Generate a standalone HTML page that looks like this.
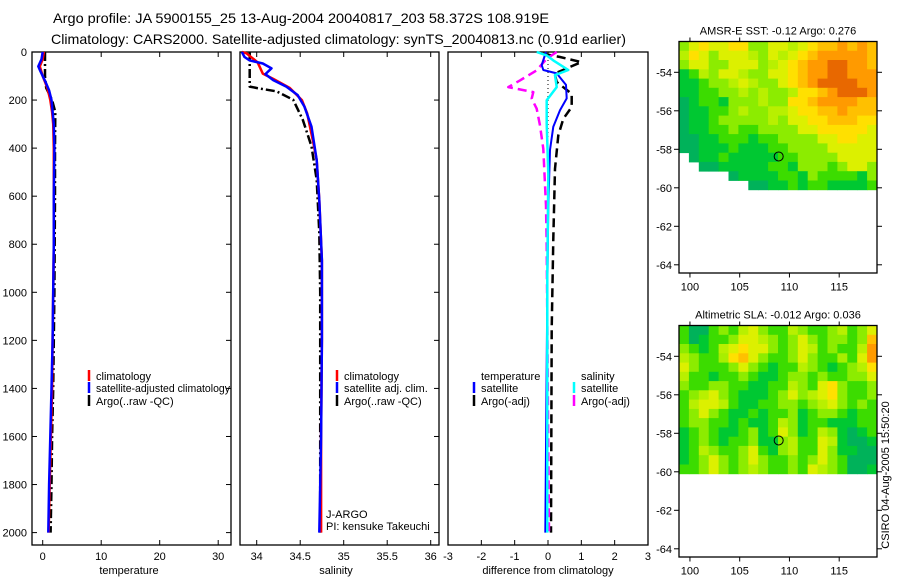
<!DOCTYPE html>
<html><head><meta charset="utf-8"><style>
html,body{margin:0;padding:0;background:#fff}
svg{display:block;font-family:"Liberation Sans",sans-serif}
text{font-size:11px;fill:#000}
</style></head><body>
<svg id="c" width="900" height="580" viewBox="0 0 900 580">
<text x="53" y="23" style="font-size:14px" textLength="496" lengthAdjust="spacingAndGlyphs">Argo profile: JA 5900155_25 13-Aug-2004 20040817_203 58.372S 108.919E</text>
<text x="51" y="44" style="font-size:14px" textLength="575" lengthAdjust="spacingAndGlyphs">Climatology: CARS2000. Satellite-adjusted climatology: synTS_20040813.nc (0.91d earlier)</text>
<g id="g"></g>
</svg>
<script>
// ---- data ----
const tClimD=[0,30,60,100,150,200,250,300,400,600,800,1000,1200,1400,1600,1800,2000];
const tClimV=[0.2,0.0,-0.5,0.0,0.8,1.3,1.6,1.8,1.9,1.9,1.9,1.8,1.7,1.6,1.4,1.2,1.0];
const tSatD=[0,30,60,80,120,160,200,300,400,600,800,1000,1200,1400,1600,1800,2000];
const tSatV=[0.0,-0.2,-0.75,-0.4,0.4,1.1,1.5,1.9,2.0,1.9,1.9,1.8,1.7,1.5,1.3,1.1,0.95];
const tArgoD=[0,100,150,200,250,400,600,1000,1400,1600,1800,2000];
const tArgoV=[0.4,0.4,0.6,1.6,2.15,2.1,2.1,2.0,1.8,1.6,1.5,1.35];
const sClimD=[0,5,43,90,112,150,200,256,375,450,617,867,1200,1600,2000];
const sClimV=[33.83,33.88,34.01,34.07,34.19,34.38,34.52,34.58,34.65,34.69,34.72,34.75,34.75,34.74,34.74];
const sSatD=[0,21,35,48,68,92,117,144,179,228,311,450,617,867,1200,1600,2000];
const sSatV=[33.83,33.86,33.92,34.07,34.17,34.10,34.19,34.34,34.47,34.55,34.63,34.69,34.72,34.75,34.75,34.74,34.72];
const sArgoD=[0,144,150,164,199,282,393,532,754,1000,1500,2000];
const sArgoV=[33.92,33.92,34.0,34.23,34.42,34.53,34.63,34.69,34.72,34.73,34.73,34.73];
const dTSatD=[0,54,75,89,137,193,242,311,408,644,1000,1500,2000];
const dTSatV=[-0.06,-0.19,-0.14,0.26,0.54,0.56,0.36,0.16,0.06,0.01,-0.02,-0.05,-0.08];
const dTArgoD=[7,21,42,60,90,125,174,229,278,347,486,778,1153,2000];
const dTArgoV=[-0.15,0.36,1.0,0.7,0.2,0.26,0.71,0.71,0.46,0.31,0.21,0.16,0.11,0.09];
const dSSatD=[0,14,35,75,96,146,201,299,507,924,1500,2000];
const dSSatV=[-0.34,-0.04,0.16,0.61,0.21,0.26,-0.04,-0.04,0.01,-0.02,-0.02,-0.02];
const dSArgoD=[0,28,76,118,146,167,194,236,306,403,639,806,1500,2000];
const dSArgoV=[0.26,-0.04,-0.34,-0.84,-1.19,-0.44,-0.49,-0.34,-0.24,-0.14,-0.06,-0.04,0.0,0.03];
const depthTicks=[0,200,400,600,800,1000,1200,1400,1600,1800,2000];
const tTicks=[0,10,20,30];
const sTicks=[34,34.5,35,35.5,36];
const sTickLabels=["34","34.5","35","35.5","36"];
const dTicks=[-3,-2,-1,0,1,2,3];
const latTicks=[-54,-56,-58,-60,-62,-64];
const lonTicks=[100,105,110,115];
const argoLon=108.919, argoLat=-58.372;
const sstGrid=[
"lyYyyYYllyyLyYooOoOo","LYylyyyLlyLyYoOOOOOo","lyyllyyylLyYoOORROOo","GgLlyyLllyyYoOORROOO",
"GGgllLyLllyYoORRRROO","GGggllLlLllLYYoORRRO","aGggGlllLllYYoOOOOoo","aGGgglLllLLyYYooOooo",
"aGGglllllLlyyYYoooYY","aGGgglggllllyyYYYYYy","aaGGgggGggllllyyYYyy","aaGGGgGGGggllllyyyyy",
".aGGgGGGGGggllllyyyy","..aaGGGGGggGlllglyyl",".....aGGGGggGlggggGl",".......aaGGgGggGGGGg"];
const slaGrid=[
"gaaglgLylggLlgglLgly","gaGgglyyLlglylgllglo","lgGgLyYyylglyLglggLO","LlggIYoylgglylggIgyO",
"ylggglylgGggLlgGglLY","LggGgglgGGgllglgglly","lggllggGGggLlgyYlggl","glLylgGGGglylLyYlggl",
"gLyyLgGGggllglLylglg","glylgGGgGgglGgllgGgg","gllggGgGGgLlGggGGGgg","GglgGGglGgylGgLlGaGg",
"GglgGgglGGlLggyLGaaG","GgLlgglygGlLggylGGaa","Gglylglylgglglylgaaa","gglylglLlgglgyLlgaaG"];
// ---- render ----
const NS="http://www.w3.org/2000/svg";
const G=document.getElementById('g');
function mk(tag,attrs,parent){const e=document.createElementNS(NS,tag);for(const k in attrs)e.setAttribute(k,attrs[k]);(parent||G).appendChild(e);return e;}
function txt(x,y,s,anchor,parent,size){const t=mk('text',{x:x,y:y,'text-anchor':anchor||'start'},parent);if(size)t.style.fontSize=size+'px';t.textContent=s;return t;}
const yD=d=>52+d*0.2403;
const xT=v=>42.7+v*5.85;
const xS=v=>256.7+(v-34)*87;
const xDf=v=>548+v*33.33;
const BOT=545;
function panel(name,x0,x1){const r=mk('rect',{x:x0,y:52,width:x1-x0,height:BOT-52,fill:'none',stroke:'#000','stroke-width':1.3});

}
panel('temperature-panel',32,231);panel('salinity-panel',240,439);panel('difference-panel',448,648);
depthTicks.forEach(d=>{const y=yD(d);
mk('line',{x1:32,x2:37,y1:y,y2:y,stroke:'#000'});mk('line',{x1:226,x2:231,y1:y,y2:y,stroke:'#000'});
mk('line',{x1:434,x2:439,y1:y,y2:y,stroke:'#000'});
const t=txt(27,y+4,String(d),'end');

});
function xticks(ticks,labels,fx,cls){ticks.forEach((v,i)=>{const x=fx(v);
mk('line',{x1:x,x2:x,y1:52,y2:57,stroke:'#000'});mk('line',{x1:x,x2:x,y1:BOT-5,y2:BOT,stroke:'#000'});
const t=txt(x,560,labels[i],'middle');

});}
xticks(tTicks,tTicks.map(String),xT,'temperature-tick-label');
xticks(sTicks,sTickLabels,xS,'salinity-tick-label');
xticks(dTicks,dTicks.map(String),xDf,'difference-tick-label');
[['temperature',129,'x-axis-title-temperature'],['salinity',336,'x-axis-title-salinity'],['difference from climatology',548,'x-axis-title-difference']].forEach(a=>{const t=txt(a[1],574,a[0],'middle');

});
mk('line',{x1:548,x2:548,y1:52,y2:yD(1300),stroke:'#000','stroke-width':1,'stroke-dasharray':'1,3'});
function series(D,V,fx,color,name,dash,w){const p=D.map((d,i)=>(i?'L':'M')+fx(V[i]).toFixed(1)+','+yD(d).toFixed(1)).join('');
const e=mk('path',{d:p,fill:'none',stroke:color,'stroke-width':w||2.5,'stroke-linejoin':'round'});
if(dash)e.setAttribute('stroke-dasharray',dash);

}
series(tArgoD,tArgoV,xT,'#000','temp-argo-line','9,3,2,3');
series(tClimD,tClimV,xT,'#f00','temp-climatology-line');
series(tSatD,tSatV,xT,'#00f','temp-satellite-line');
series(sArgoD,sArgoV,xS,'#000','sal-argo-line','9,3,2,3');
series(sClimD,sClimV,xS,'#f00','sal-climatology-line');
series(sSatD,sSatV,xS,'#00f','sal-satellite-line');
series(dTArgoD,dTArgoV,xDf,'#000','diff-temp-argo-line','9,5');
series(dSArgoD,dSArgoV,xDf,'#f0f','diff-sal-argo-line','9,5');
series(dTSatD,dTSatV,xDf,'#00f','diff-temp-satellite-line',null,2);
series(dSSatD,dSSatV,xDf,'#0ff','diff-sal-satellite-line',null,2.5);
function leg(x,y,color,label,name,len){if(color)mk('line',{x1:x,x2:x,y1:y-6,y2:y+5,stroke:color,'stroke-width':2.5});
const t=txt(x+7,y+4,label,'start');
if(len){t.setAttribute('textLength',len);t.setAttribute('lengthAdjust','spacingAndGlyphs');}

}
leg(89,376,'#f00','climatology','legend-climatology');
leg(89,388,'#00f','satellite-adjusted climatology','legend-satellite-adjusted',134);
leg(89,401,'#000','Argo(..raw -QC)','legend-argo');
leg(337,376,'#f00','climatology','legend-sal-climatology');
leg(337,388,'#00f','satellite adj. clim.','legend-sal-satellite');
leg(337,401,'#000','Argo(..raw -QC)','legend-sal-argo');
leg(319,514,null,'J-ARGO','legend-j-argo');
leg(319,526,null,'PI: kensuke Takeuchi','legend-pi');
leg(474,376,null,'temperature','legend-diff-temperature');
leg(474,388,'#00f','satellite','legend-diff-temp-satellite');
leg(474,401,'#000','Argo(-adj)','legend-diff-temp-argo');
leg(574,376,null,'salinity','legend-diff-salinity');
leg(574,388,'#0ff','satellite','legend-diff-sal-satellite');
leg(574,401,'#f0f','Argo(-adj)','legend-diff-sal-argo');
const pal={a:'#00b25a',G:'#00c832',g:'#3cdc00',l:'#8cec00',L:'#b8f000',I:'#a8ee00',y:'#dcf000',Y:'#ffe000',o:'#ffc000',O:'#ff9a00',R:'#e86800','.':'#fff'};
const xL=lon=>679+(lon-98.9)*9.95;
function map(top,grid,name,title){const yL=lat=>top+30.8+(-54-lat)*19.25;
const g=mk('g',{});


const rows=grid.length,cols=grid[0].length,dLat=7.7/rows,dLon=(118.8-98.9)/cols;
grid.forEach((row,r)=>{for(let c=0;c<cols;c++){const ch=row[c];if(ch==='.')continue;
const x0=xL(98.9+c*dLon),x1=xL(98.9+(c+1)*dLon),y0=yL(-52.4-r*dLat),y1=yL(-52.4-(r+1)*dLat);
mk('rect',{x:x0.toFixed(1),y:y0.toFixed(1),width:(x1-x0+0.4).toFixed(1),height:(y1-y0+0.4).toFixed(1),fill:pal[ch]},g);}});
mk('rect',{x:679,y:top,width:198,height:231.5,fill:'none',stroke:'#000','stroke-width':1.3},g);
latTicks.forEach(l=>{const y=yL(l);mk('line',{x1:674,x2:679,y1:y,y2:y,stroke:'#000'},g);mk('line',{x1:877,x2:882,y1:y,y2:y,stroke:'#000'},g);
const t=txt(672,y+4,String(l),'end',g);

});
lonTicks.forEach(l=>{const x=xL(l);mk('line',{x1:x,x2:x,y1:top+231.5,y2:top+236,stroke:'#000'},g);mk('line',{x1:x,x2:x,y1:top-4,y2:top,stroke:'#000'},g);
const t=txt(x,top+249,String(l),'middle',g);

});
const ci=mk('circle',{cx:xL(argoLon),cy:yL(argoLat),r:4.5,fill:'none',stroke:'#000','stroke-width':1},g);


const t=txt(778,top-7,title,'middle',g);

}
map(41.5,sstGrid,'sst-map','AMSR-E SST: -0.12 Argo: 0.276');
map(325.5,slaGrid,'sla-map','Altimetric SLA: -0.012 Argo: 0.036');
const st=txt(0,0,'CSIRO 04-Aug-2005 15:50:20','middle');
st.setAttribute('transform','translate(889,475) rotate(-90)');


</script>
</body></html>
